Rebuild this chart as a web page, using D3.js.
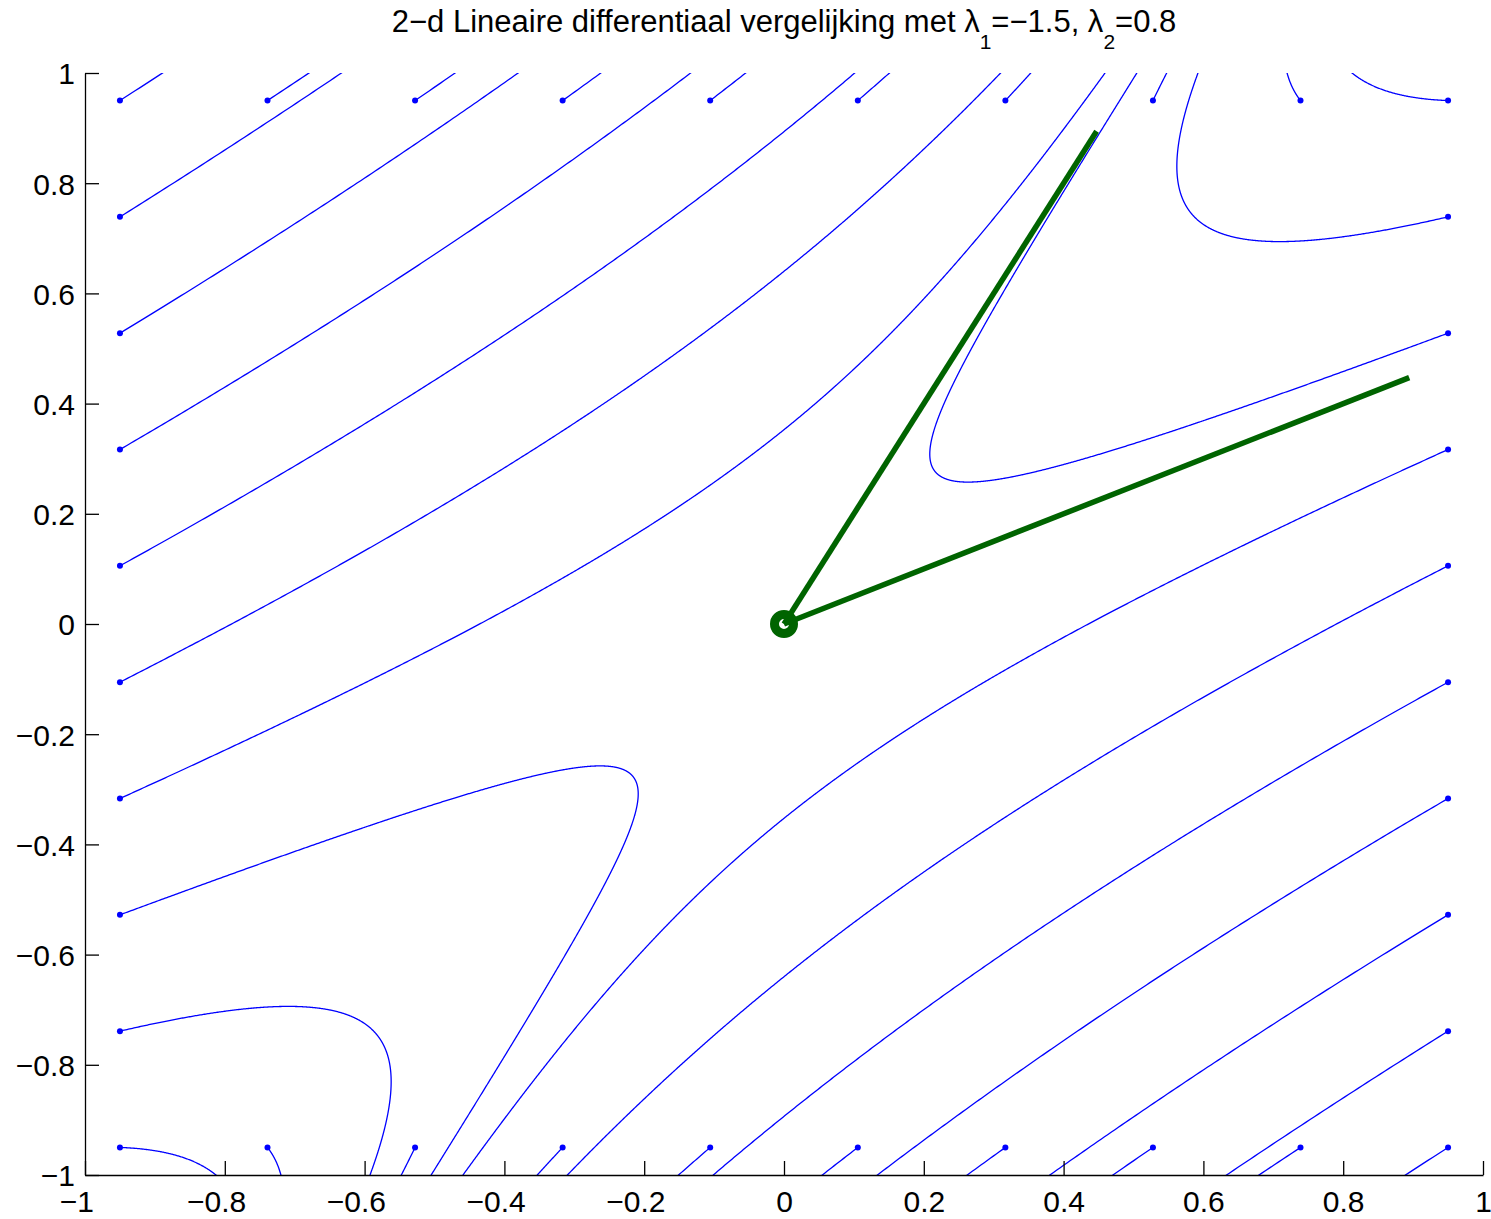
<!DOCTYPE html>
<html>
<head>
<meta charset="utf-8">
<script src="https://cdn.jsdelivr.net/npm/d3@7"></script>
<style>
  body{margin:0;background:#fff;}
  svg{display:block;font-family:"Liberation Sans",Arial,sans-serif;}
</style>
</head>
<body>
<svg id="phase" width="1491" height="1219"></svg>
<script>
// eigenvalues and eigenvectors of the system (from the title / green lines)
const lambdas=[-1.5, 0.8];
const eigvecs=[[2/Math.sqrt(5), 1/Math.sqrt(5)], [1/Math.sqrt(5), 2/Math.sqrt(5)]];
// start positions along the border (the blue dots)
const startGrid=[-0.95, -0.7389, -0.5278, -0.3167, -0.1056, 0.1056, 0.3167, 0.5278, 0.7389, 0.95];
const tickVals=[-1, -0.8, -0.6, -0.4, -0.2, 0, 0.2, 0.4, 0.6, 0.8, 1];

const svg=d3.select("#phase");
const padL=85, padR=1483, padT=73, padB=1175;
const x=d3.scaleLinear().domain([-1,1]).range([padL,padR]);
const y=d3.scaleLinear().domain([-1,1]).range([padB,padT]);

// start points: top row, bottom row, then inner points of left & right columns
const starts=[];
startGrid.forEach(v=>starts.push([v,0.95]));
startGrid.forEach(v=>starts.push([v,-0.95]));
startGrid.slice(1,-1).forEach(v=>{starts.push([-0.95,v]); starts.push([0.95,v]);});

// solve x(t) = c1 e^{l1 t} v1 + c2 e^{l2 t} v2 for each start point
const [a,b]=eigvecs;
const det=a[0]*b[1]-b[0]*a[1];
function trajectory([x0,y0]){
  const c1=( b[1]*x0-b[0]*y0)/det;
  const c2=(-a[1]*x0+a[0]*y0)/det;
  const pts=[];
  for(let t=0;t<15;t+=0.002){
    const e1=c1*Math.exp(lambdas[0]*t), e2=c2*Math.exp(lambdas[1]*t);
    const px=e1*a[0]+e2*b[0], py=e1*a[1]+e2*b[1];
    pts.push([px,py]);
    if(Math.abs(px)>1.05||Math.abs(py)>1.05) break;
  }
  return pts;
}

svg.append("defs").append("clipPath").attr("id","plotclip")
  .append("rect").attr("x",padL).attr("y",padT).attr("width",padR-padL).attr("height",padB-padT);

const line=d3.line().x(d=>x(d[0])).y(d=>y(d[1]));

svg.append("g")
  .attr("clip-path","url(#plotclip)")
  .selectAll("path")
  .data(starts.map(trajectory))
  .join("path")
  .attr("d",line)
  .attr("fill","none")
  .attr("stroke","#0000ff")
  .attr("stroke-width",1.3);

svg.append("g")
  .selectAll("circle")
  .data(starts)
  .join("circle")
  .attr("cx",d=>x(d[0]))
  .attr("cy",d=>y(d[1]))
  .attr("r",3)
  .attr("fill","#0000ff");

// eigenvector lines with marker at origin
svg.append("circle")
  .attr("cx",x(0)).attr("cy",y(0)).attr("r",9.5)
  .attr("fill","none").attr("stroke","#006400").attr("stroke-width",9);

svg.append("g")
  .selectAll("line")
  .data(eigvecs)
  .join("line")
  .attr("x1",x(0)).attr("y1",y(0))
  .attr("x2",d=>x(d[0])).attr("y2",d=>y(d[1]))
  .attr("stroke","#006400")
  .attr("stroke-width",5.5);

// axes (left and bottom only, ticks inward)
const fmt=d3.format("~g");
const xAxis=svg.append("g")
  .attr("transform",`translate(0,${padB})`)
  .call(d3.axisBottom(x).tickValues(tickVals).tickFormat(fmt).tickSize(-14).tickSizeOuter(0).tickPadding(16));
const yAxis=svg.append("g")
  .attr("transform",`translate(${padL},0)`)
  .call(d3.axisLeft(y).tickValues(tickVals).tickFormat(fmt).tickSize(-14).tickSizeOuter(0).tickPadding(10));

[xAxis,yAxis].forEach(g=>{
  g.select(".domain").attr("stroke","#000").attr("stroke-width",1.3);
  g.selectAll(".tick line").attr("stroke","#000").attr("stroke-width",1.3);
  g.selectAll(".tick text").attr("fill","#000").attr("font-size","30px")
    .attr("font-family","'Liberation Sans',Arial,sans-serif");
});
// keep the number part centred under the tick, the minus sign sticks out
xAxis.selectAll(".tick text").attr("dy","0.7em").attr("dx",d=>d<0?"-0.292em":0);
yAxis.selectAll(".tick text").attr("dy","0.36em");

const title=svg.append("text")
  .attr("x",x(0)).attr("y",32)
  .attr("text-anchor","middle")
  .attr("font-size","31px")
  .attr("fill","#000");
title.append("tspan").text("2\u2212d Lineaire differentiaal vergelijking met \u03bb");
title.append("tspan").attr("font-size","21px").attr("dy",17).text("1");
title.append("tspan").attr("dy",-17).text("=\u22121.5, \u03bb");
title.append("tspan").attr("font-size","21px").attr("dy",17).text("2");
title.append("tspan").attr("dy",-17).text("=0.8");
</script>
</body>
</html>
